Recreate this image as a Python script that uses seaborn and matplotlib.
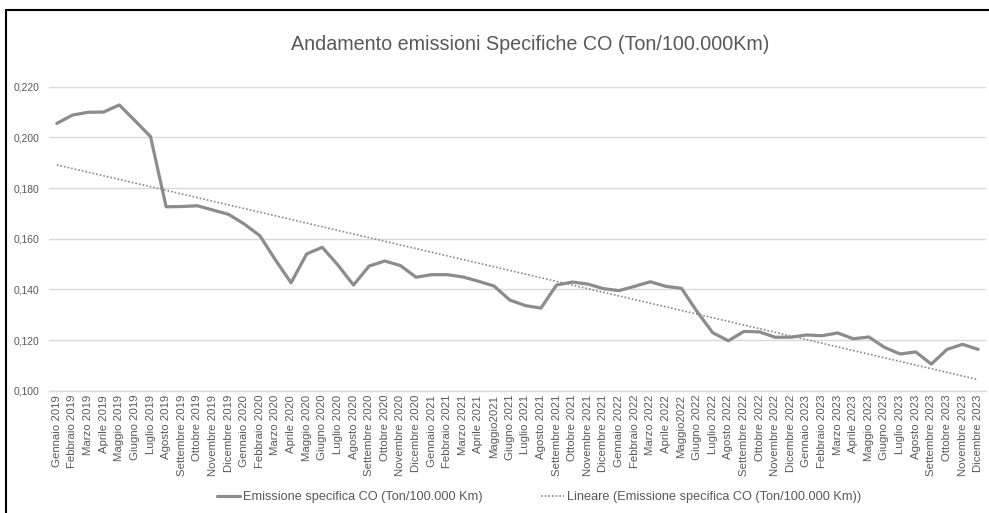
import numpy as np
import pandas as pd
import matplotlib
matplotlib.use("Agg")
import matplotlib.pyplot as plt
import seaborn as sns
from matplotlib.lines import Line2D

months = ["Gennaio 2019", "Febbraio 2019", "Marzo 2019", "Aprile 2019", "Maggio 2019", "Giugno 2019",
          "Luglio 2019", "Agosto 2019", "Settembre 2019", "Ottobre 2019", "Novembre 2019", "Dicembre 2019",
          "Gennaio 2020", "Febbraio 2020", "Marzo 2020", "Aprile 2020", "Maggio 2020", "Giugno 2020",
          "Luglio 2020", "Agosto 2020", "Settembre 2020", "Ottobre 2020", "Novembre 2020", "Dicembre 2020",
          "Gennaio 2021", "Febbraio 2021", "Marzo 2021", "Aprile 2021", "Maggio2021", "Giugno 2021",
          "Luglio 2021", "Agosto 2021", "Settembre 2021", "Ottobre 2021", "Novembre 2021", "Dicembre 2021",
          "Gennaio 2022", "Febbraio 2022", "Marzo 2022", "Aprile 2022", "Maggio2022", "Giugno 2022",
          "Luglio 2022", "Agosto 2022", "Settembre 2022", "Ottobre 2022", "Novembre 2022", "Dicembre 2022",
          "Gennaio 2023", "Febbraio 2023", "Marzo 2023", "Aprile 2023", "Maggio 2023", "Giugno 2023",
          "Luglio 2023", "Agosto 2023", "Settembre 2023", "Ottobre 2023", "Novembre 2023", "Dicembre 2023"]

emissioni = [0.2055, 0.2088, 0.2099, 0.2100, 0.2128, 0.2066,
             0.2003, 0.1726, 0.1727, 0.1730, 0.1713, 0.1696,
             0.1658, 0.1612, 0.1516, 0.1426, 0.1540, 0.1566,
             0.1496, 0.1417, 0.1492, 0.1512, 0.1494, 0.1448,
             0.1458, 0.1458, 0.1449, 0.1432, 0.1413, 0.1358,
             0.1336, 0.1326, 0.1417, 0.1429, 0.1421, 0.1403,
             0.1395, 0.1412, 0.1430, 0.1412, 0.1404, 0.1312,
             0.1229, 0.1197, 0.1234, 0.1232, 0.1211, 0.1211,
             0.1220, 0.1217, 0.1228, 0.1205, 0.1212, 0.1171,
             0.1145, 0.1153, 0.1105, 0.1163, 0.1183, 0.1163]

yticks = [0.100, 0.120, 0.140, 0.160, 0.180, 0.200, 0.220]
ytick_labels = ["0,100", "0,120", "0,140", "0,160", "0,180", "0,200", "0,220"]

title = "Andamento emissioni Specifiche CO (Ton/100.000Km)"
serie_label = "Emissione specifica CO (Ton/100.000 Km)"
trend_label = "Lineare (Emissione specifica CO (Ton/100.000 Km))"

sns.set_theme(style="white")
plt.rcParams["font.family"] = ["Liberation Sans", "DejaVu Sans"]

TEXT = "#595959"
LINE = "#8c8c8c"
GRID = "#d9d9d9"

idx = np.arange(len(months))
df = pd.DataFrame({"idx": idx, "mese": months, "val": emissioni})
coef = np.polyfit(idx, df["val"], 1)
df["trend"] = np.polyval(coef, idx)

fig = plt.figure(figsize=(9.89, 5.13), dpi=100)
ax = fig.add_axes([49 / 989, 1 - 390.7 / 513, (986 - 49) / 989, (390.7 - 86.7) / 513])

sns.lineplot(data=df, x="idx", y="val", ax=ax, color=LINE, linewidth=2.3, zorder=3)
sns.lineplot(data=df, x="idx", y="trend", ax=ax, color="#8a8a8a", linewidth=1.2,
             linestyle=(0, (1, 1.2)), zorder=2)

ax.set_xlim(-0.5, len(months) - 0.5)
ax.set_ylim(0.100, 0.220)
ax.set_yticks(yticks)
ax.set_yticklabels(ytick_labels, fontsize=7.4, color=TEXT)
ax.set_xticks(idx)
ax.set_xticklabels(months, rotation=90, fontsize=8.2, color=TEXT, va="top")
ax.tick_params(axis="both", length=0)
ax.tick_params(axis="y", pad=7)
ax.tick_params(axis="x", pad=3)
ax.set_xlabel("")
ax.set_ylabel("")
ax.grid(axis="y", color=GRID, linewidth=1.0)
ax.grid(axis="x", visible=False)
for s in ["top", "right", "left"]:
    ax.spines[s].set_visible(False)
ax.spines["bottom"].set_color(GRID)
ax.spines["bottom"].set_linewidth(1.0)

fig.text(530 / 989, 1 - 44 / 513, title, ha="center", va="center", fontsize=14.2, color=TEXT)

handles = [Line2D([], [], color=LINE, linewidth=2.3),
           Line2D([], [], color="#8a8a8a", linewidth=1.2, linestyle=(0, (1, 1.2)))]
leg = fig.legend(handles, [serie_label, trend_label], loc="center",
                 bbox_to_anchor=(539 / 989, 1 - 497 / 513), ncol=2, frameon=False,
                 fontsize=9.2, handlelength=1.8, handletextpad=0.2, columnspacing=4.6)
for t in leg.get_texts():
    t.set_color(TEXT)

# outer frame (top and left edges visible in the reference)
fig.add_artist(Line2D([6 / 989, 1.0], [1 - 10 / 513, 1 - 10 / 513], transform=fig.transFigure,
                      color="black", linewidth=1.5))
fig.add_artist(Line2D([6 / 989, 6 / 989], [0.0, 1 - 10 / 513], transform=fig.transFigure,
                      color="black", linewidth=1.5))

fig.savefig("out.png", dpi=100, facecolor="white")
